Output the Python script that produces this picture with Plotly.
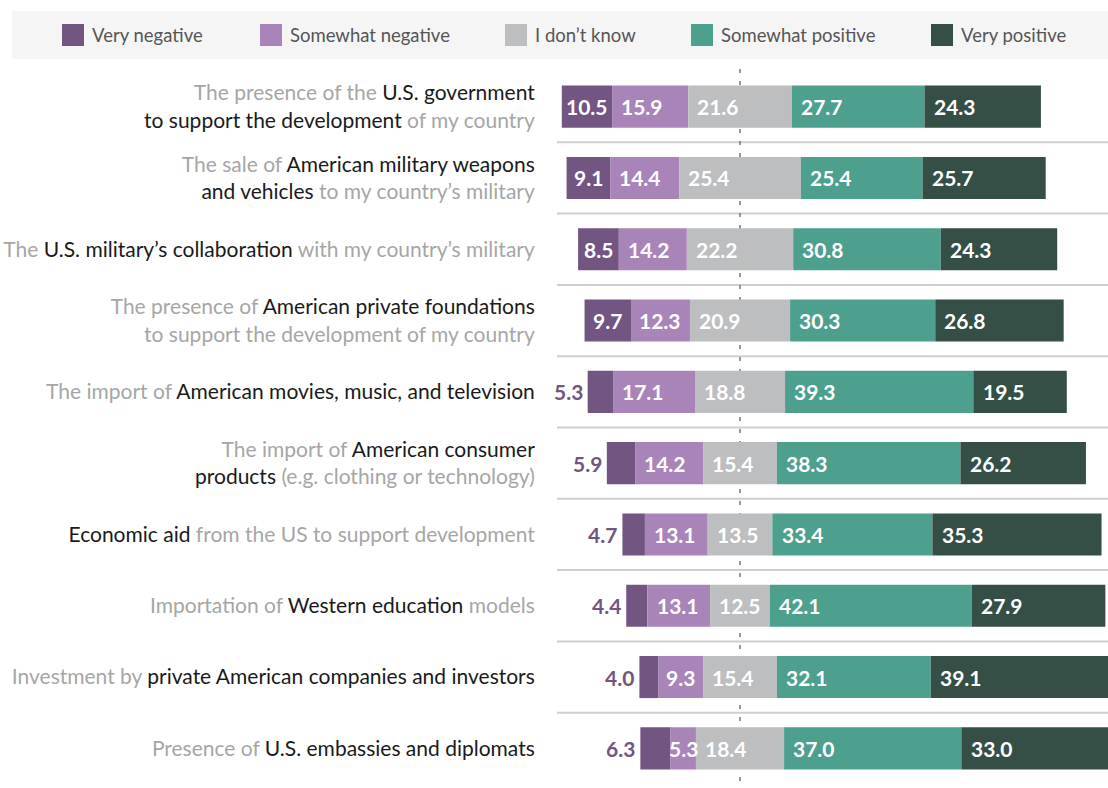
import plotly.graph_objects as go

# ---------------- data ----------------
label_lines = [
    '<span style="color:#a6a6a6">The presence of the </span>U.S. government<br>to support the development<span style="color:#a6a6a6"> of my country</span>',
    '<span style="color:#a6a6a6">The sale of </span>American military weapons<br>and vehicles<span style="color:#a6a6a6"> to my country’s military</span>',
    '<span style="color:#a6a6a6">The </span>U.S. military’s collaboration<span style="color:#a6a6a6"> with my country’s military</span>',
    '<span style="color:#a6a6a6">The presence of </span>American private foundations<br><span style="color:#a6a6a6">to support the development of my country</span>',
    '<span style="color:#a6a6a6">The import of </span>American movies, music, and television',
    '<span style="color:#a6a6a6">The import of </span>American consumer<br>products<span style="color:#a6a6a6"> (e.g. clothing or technology)</span>',
    'Economic aid<span style="color:#a6a6a6"> from the US to support development</span>',
    '<span style="color:#a6a6a6">Importation of </span>Western education<span style="color:#a6a6a6"> models</span>',
    '<span style="color:#a6a6a6">Investment by </span>private American companies and investors',
    '<span style="color:#a6a6a6">Presence of </span>U.S. embassies and diplomats',
]

very_negative     = [10.5, 9.1, 8.5, 9.7, 5.3, 5.9, 4.7, 4.4, 4.0, 6.3]
somewhat_negative = [15.9, 14.4, 14.2, 12.3, 17.1, 14.2, 13.1, 13.1, 9.3, 5.3]
dont_know         = [21.6, 25.4, 22.2, 20.9, 18.8, 15.4, 13.5, 12.5, 15.4, 18.4]
somewhat_positive = [27.7, 25.4, 30.8, 30.3, 39.3, 38.3, 33.4, 42.1, 32.1, 37.0]
very_positive     = [24.3, 25.7, 24.3, 26.8, 19.5, 26.2, 35.3, 27.9, 39.1, 33.0]

series_names = ["Very negative", "Somewhat negative", "I don’t know",
                "Somewhat positive", "Very positive"]
series_values = [very_negative, somewhat_negative, dont_know,
                 somewhat_positive, very_positive]
colors = ["#735582", "#a984b8", "#bdbebf", "#4d9f8e", "#354f47"]

# ---------------- layout constants ----------------
W, H = 1108, 788
ML, MR, MT, MB = 557, 0, 71, 3
PLOT_W = W - ML - MR
PLOT_H = H - MT - MB
ROW_PX = 71.3
XMIN, XMAX = -38.2, 76.8
FONT = "Lato, 'Open Sans', sans-serif"

def px_x(p):
    return (p - ML) / PLOT_W

def px_y(p):
    return (H - MB - p) / PLOT_H

n = len(label_lines)
ypos = list(range(n))
y_bottom = -0.5 + PLOT_H / ROW_PX

fig = go.Figure()

# bases: centre of "I don't know" at zero
starts = []
for i in range(n):
    s = -(very_negative[i] + somewhat_negative[i] + dont_know[i] / 2)
    row = []
    for vals in series_values:
        row.append(s)
        s += vals[i]
    starts.append(row)

annotations = []
for k, (name, vals, col) in enumerate(zip(series_names, series_values, colors)):
    bases = [starts[i][k] for i in range(n)]
    fig.add_trace(go.Bar(
        y=ypos, x=vals, base=bases, orientation="h", name=name,
        marker=dict(color=col, line=dict(width=0)),
        showlegend=False, hoverinfo="skip",
    ))
    for i in range(n):
        v = vals[i]
        if k == 0 and v < 7:
            annotations.append(dict(
                x=bases[i], y=ypos[i], xref="x", yref="y", text=f"{v:.1f}",
                showarrow=False, xanchor="right", xshift=-3,
                font=dict(family=FONT, size=21, color="#735582", weight="bold")))
        else:
            annotations.append(dict(
                x=bases[i] + min(v / 2, 6.3), y=ypos[i], xref="x", yref="y",
                text=f"{v:.1f}", showarrow=False, xanchor="center",
                font=dict(family=FONT, size=21, color="white", weight="bold")))

shapes = []
# separators between rows
for i in range(n - 1):
    shapes.append(dict(type="line", xref="paper", x0=0, x1=1, yref="y",
                       y0=i + 0.5, y1=i + 0.5, layer="below",
                       line=dict(color="#cfcfcf", width=2)))
# centre dashed line
shapes.append(dict(type="line", xref="x", x0=0, x1=0, yref="paper",
                   y0=px_y(781), y1=px_y(62), layer="below",
                   line=dict(color="#777777", width=1.5, dash="4px,8px")))

# legend box
shapes.append(dict(type="rect", xref="paper", yref="paper",
                   x0=px_x(12), x1=px_x(1108), y0=px_y(59), y1=px_y(11),
                   fillcolor="#f5f5f5", line=dict(width=0), layer="below"))
legend_x = [62, 260, 505, 691, 931]
for name, col, lx in zip(series_names, colors, legend_x):
    shapes.append(dict(type="rect", xref="paper", yref="paper",
                       x0=px_x(lx), x1=px_x(lx + 22), y0=px_y(46), y1=px_y(24),
                       fillcolor=col, line=dict(width=0)))
    annotations.append(dict(x=px_x(lx + 28), y=px_y(35), xref="paper", yref="paper",
                            text=name, showarrow=False, xanchor="left", yanchor="middle",
                            font=dict(family=FONT, size=18.5, color="#555555")))

fig.update_layout(
    width=W, height=H,
    margin=dict(l=ML, r=MR, t=MT, b=MB, pad=0),
    paper_bgcolor="white", plot_bgcolor="white",
    barmode="overlay", bargap=0.41,
    font=dict(family=FONT, color="#1a1a1a", size=21),
    shapes=shapes, annotations=annotations,
    showlegend=False,
)
fig.update_xaxes(range=[XMIN, XMAX], visible=False, fixedrange=True)
fig.update_yaxes(range=[y_bottom, -0.5], tickvals=ypos, ticktext=label_lines,
                 ticks="outside", ticklen=17, tickcolor="rgba(0,0,0,0)",
                 showgrid=False, zeroline=False, showline=False,
                 tickfont=dict(family=FONT, size=21, color="#1a1a1a"),
                 fixedrange=True)

fig.write_html(
    "out.html",
    config={"displayModeBar": False},
    post_script="document.body.style.margin='0px';document.body.style.overflow='hidden';",
)
